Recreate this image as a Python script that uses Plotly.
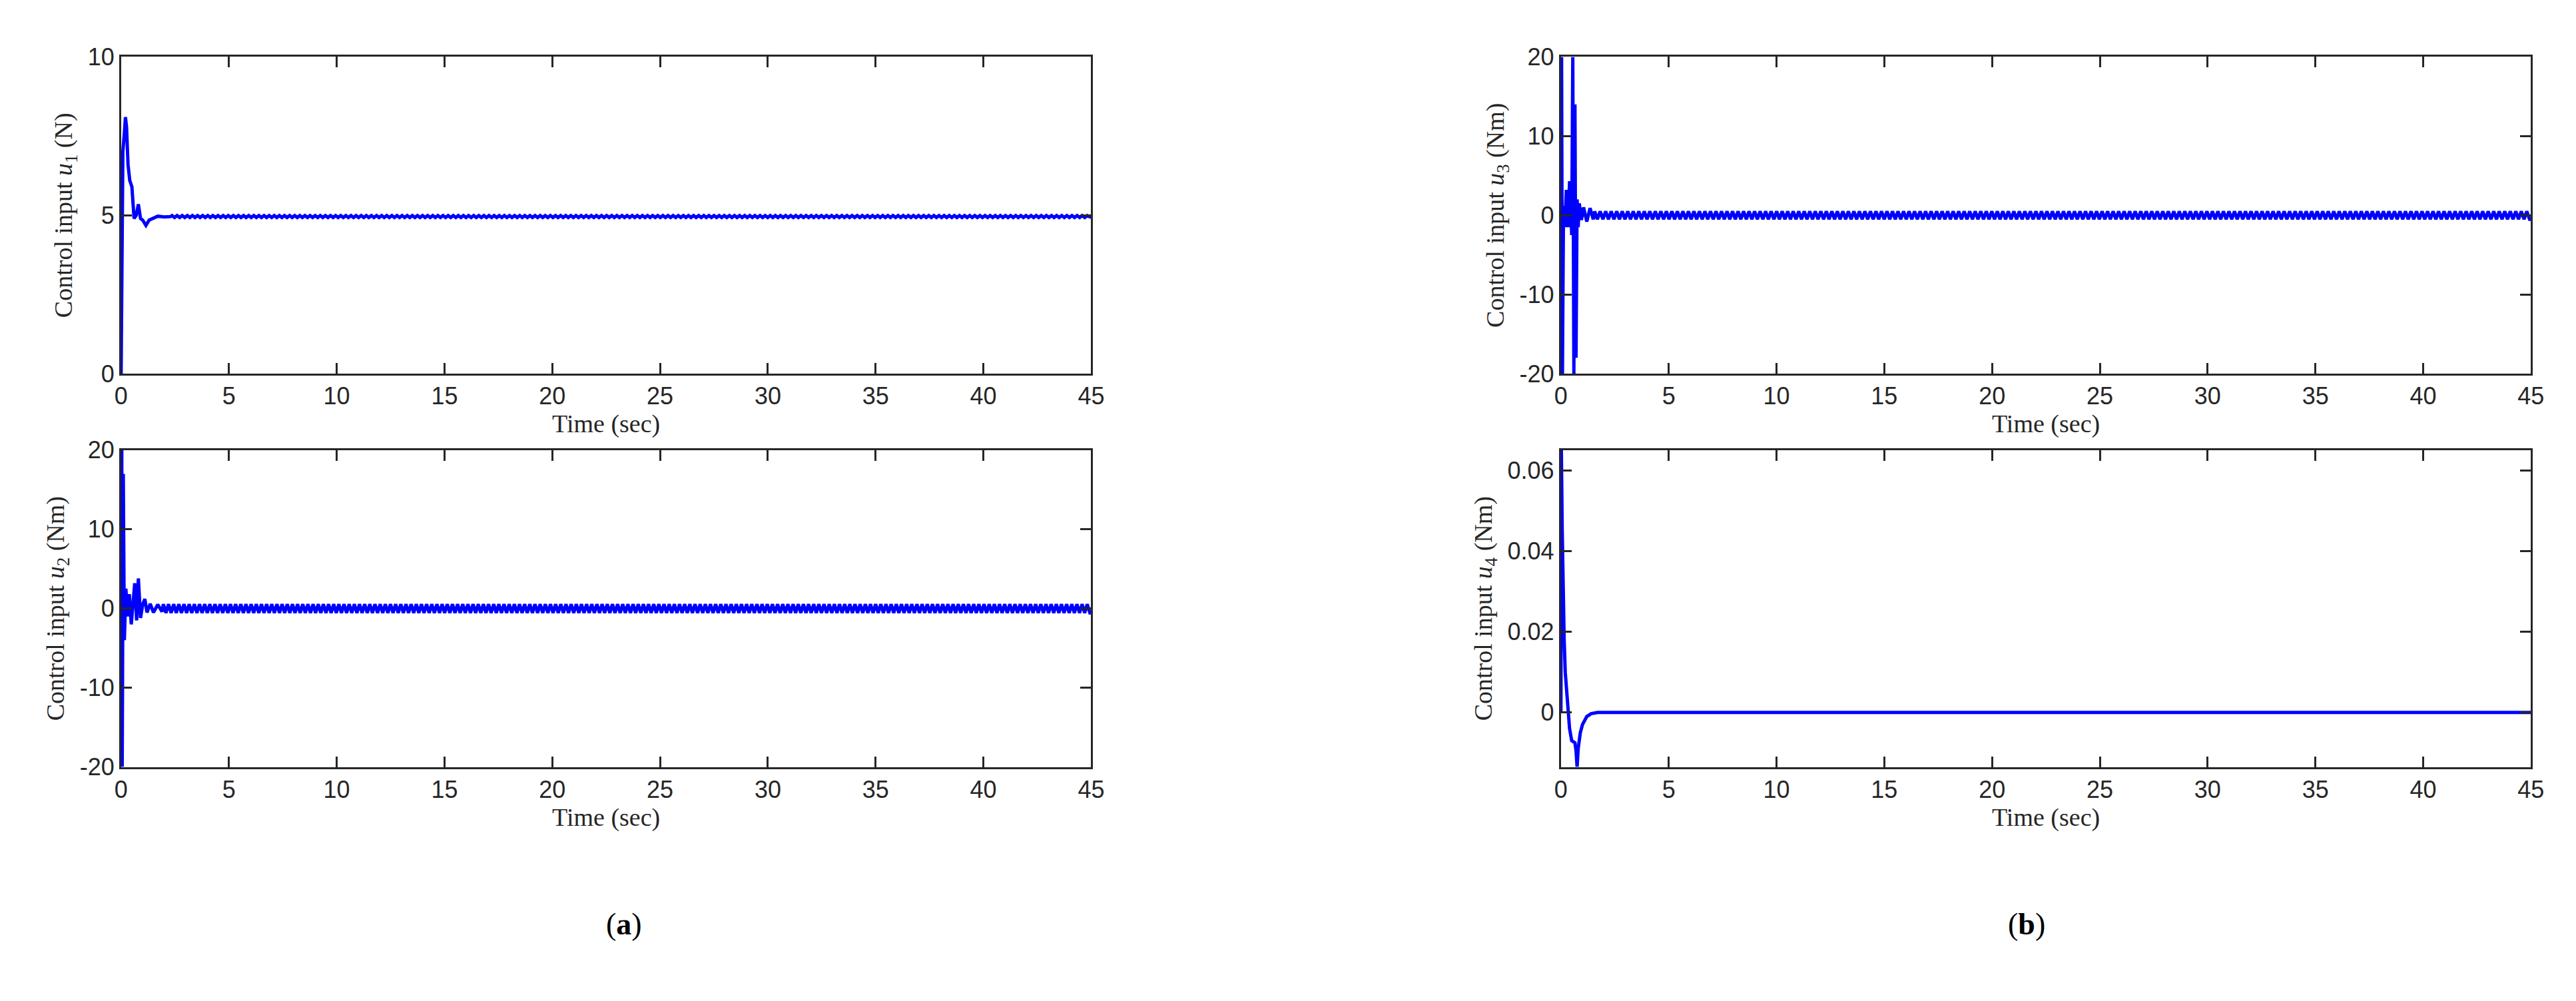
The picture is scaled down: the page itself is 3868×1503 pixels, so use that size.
import plotly.graph_objects as go

# ---- data ----
t1 = [0, 0.02, 0.08, 0.15, 0.2, 0.25, 0.32, 0.4, 0.5, 0.6, 0.7, 0.8, 0.9, 1.0, 1.15, 1.3, 1.5, 1.7, 2.0, 2.3]
u1 = [0, 2.5, 7.0, 7.6, 8.1, 7.8, 6.6, 6.1, 5.9, 4.9, 5.0, 5.35, 4.9, 4.85, 4.68, 4.85, 4.9, 4.97, 4.95, 4.96]
u1_osc = [4.99, 4.93] * 180          # small steady ripple peaks
t2 = [0, 0.01, 0.03, 0.05, 0.1, 0.15, 0.22, 0.3, 0.38, 0.47, 0.55, 0.63, 0.72, 0.8, 0.9, 1.0, 1.1, 1.2, 1.35, 1.5, 1.7, 1.9]
u2 = [0, 20, 20, -20, 17, -4, 2.5, -1, 1.8, -2, 0.5, 3.2, -1.5, 3.8, -1.2, 0.5, 1.2, -0.5, 0.6, -0.5, 0.5, -0.4]
u2_osc = [0.55, -0.55] * 180        # steady oscillation peaks
t3 = [0, 0.03, 0.07, 0.12, 0.18, 0.25, 0.33, 0.4, 0.45, 0.5, 0.55, 0.6, 0.65, 0.7, 0.75, 0.8, 0.85, 0.95, 1.05, 1.2, 1.35, 1.5]
u3 = [0, 20, -20, 1.2, -1.5, 3.2, -1.5, 4.3, 1.5, -2.5, 20, -20, 14, -18, 2.0, -1.5, 1.5, -0.6, 1.0, -0.8, 0.9, -0.5]
u3_osc = [0.5, -0.5] * 170
t4 = [0, 0.02, 0.06, 0.1, 0.15, 0.2, 0.3, 0.4, 0.5, 0.6, 0.65, 0.7, 0.75, 0.8, 0.9, 1.0, 1.2, 1.4, 1.7, 2.0, 45]
u4 = [0, 0.065, 0.045, 0.03, 0.018, 0.01, 0.002, -0.004, -0.007, -0.0075, -0.0075, -0.0095, -0.0135, -0.009, -0.005, -0.003, -0.001, -0.0003, 0, 0, 0]

x_ticks = [0, 5, 10, 15, 20, 25, 30, 35, 40, 45]
y_ticks_20 = [-20, -10, 0, 10, 20]
y_text_20 = ["-20", "-10", "0", "10", "20"]

def extend(t, u, osc, start, end=45.0):
    tt = list(t); uu = list(u)
    step = (end - start) / len(osc)
    for i, v in enumerate(osc):
        tt.append(start + (i + 0.5) * step); uu.append(v)
    tt.append(end); uu.append(uu[-1])
    return tt, uu

T1, U1 = extend(t1, u1, u1_osc, 2.3)
T2, U2 = extend(t2, u2, u2_osc, 1.9)
T3, U3 = extend(t3, u3, u3_osc, 1.5)

fig = go.Figure()
blue = "#0000FF"
lw = 5
fig.add_trace(go.Scatter(x=T1, y=U1, mode="lines", line=dict(color=blue, width=lw), xaxis="x", yaxis="y"))
fig.add_trace(go.Scatter(x=T2, y=U2, mode="lines", line=dict(color=blue, width=lw), xaxis="x2", yaxis="y2"))
fig.add_trace(go.Scatter(x=T3, y=U3, mode="lines", line=dict(color=blue, width=lw), xaxis="x3", yaxis="y3"))
fig.add_trace(go.Scatter(x=t4, y=u4, mode="lines", line=dict(color=blue, width=lw), xaxis="x4", yaxis="y4"))

tickfont = dict(family="Liberation Sans, Arial", size=36, color="#262626")
titlefont = dict(family="Liberation Serif, Times New Roman", size=38, color="#262626")
common = dict(showline=True, linecolor="#262626", linewidth=3, mirror="ticks", ticks="inside",
              ticklen=16, tickwidth=3, tickcolor="#262626", showgrid=False, zeroline=False,
              tickfont=tickfont)

xa_dom = [0.0427, 0.4222]
xb_dom = [0.606, 0.9855]
top_dom = [0.6354, 0.9607]
bot_dom = [0.2315, 0.5569]

def xax(dom, anchor):
    return dict(common, domain=dom, anchor=anchor, range=[0, 45], tickvals=x_ticks,
                title=dict(text="Time (sec)", font=titlefont, standoff=4))

def yax(dom, anchor, rng, tv, title, tt):
    return dict(common, domain=dom, anchor=anchor, range=rng, tickvals=tv, ticktext=tt,
                title=dict(text=title, font=titlefont, standoff=12))

fig.update_layout(
    width=3868, height=1503, showlegend=False,
    plot_bgcolor="white", paper_bgcolor="white",
    margin=dict(l=0, r=0, t=0, b=0),
    xaxis=xax(xa_dom, "y"),
    yaxis=yax(top_dom, "x", [0, 10], [0, 5, 10], "Control input <i>u</i><sub>1</sub> (N)", ["0", "5", "10"]),
    xaxis2=xax(xa_dom, "y2"),
    yaxis2=yax(bot_dom, "x2", [-20, 20], y_ticks_20, "Control input <i>u</i><sub>2</sub> (Nm)", y_text_20),
    xaxis3=xax(xb_dom, "y3"),
    yaxis3=yax(top_dom, "x3", [-20, 20], y_ticks_20, "Control input <i>u</i><sub>3</sub> (Nm)", y_text_20),
    xaxis4=xax(xb_dom, "y4"),
    yaxis4=yax(bot_dom, "x4", [-0.0135, 0.065], [0, 0.02, 0.04, 0.06], "Control input <i>u</i><sub>4</sub> (Nm)",
               ["0", "0.02", "0.04", "0.06"]),
    annotations=[
        dict(text="(<b>a</b>)", x=0.232, y=0.051, xref="paper", yref="paper", showarrow=False,
             font=dict(family="Liberation Serif, Times New Roman", size=46, color="black")),
        dict(text="(<b>b</b>)", x=0.796, y=0.051, xref="paper", yref="paper", showarrow=False,
             font=dict(family="Liberation Serif, Times New Roman", size=46, color="black")),
    ],
)

fig.write_html("out.html")
